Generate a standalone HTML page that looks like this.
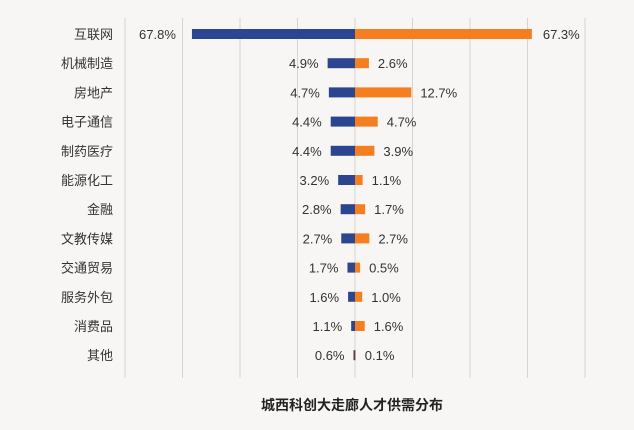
<!DOCTYPE html>
<html><head><meta charset="utf-8"><style>
html,body{margin:0;padding:0;background:#f7f6f4;}
svg{display:block;font-family:"Liberation Sans","Noto Sans CJK SC",sans-serif;}
</style></head><body>
<svg id="chart" width="634" height="430"></svg>
<script>
const categories=["互联网","机械制造","房地产","电子通信","制药医疗","能源化工","金融","文教传媒","交通贸易","服务外包","消费品","其他"];
const leftValues=[67.8,4.9,4.7,4.4,4.4,3.2,2.8,2.7,1.7,1.6,1.1,0.6];
const rightValues=[67.3,2.6,12.7,4.7,3.9,1.1,1.7,2.7,0.5,1.0,1.6,0.1];
const gridCount=9;
const NS="http://www.w3.org/2000/svg";
const svg=document.getElementById('chart');
const cx=355,y0=34,step=29.2,barH=10;
function lenL(v){let b=v<=20?6.2*v-3:121+(v-20)*0.88;return Math.max(1.5,b);}
function lenR(v){let b=v<=20?4.2*v+3:87+(v-20)*1.9;return v<0.3?0.8:Math.max(1,b);}
function mk(t,a){const e=document.createElementNS(NS,t);for(const k in a)e.setAttribute(k,a[k]);svg.appendChild(e);return e;}
for(let i=0;i<gridCount;i++){
  const g=mk('line',{x1:125+i*57.5,x2:125+i*57.5,y1:18,y2:378,stroke:'#d6d4d1','stroke-width':1});
  
  
}
categories.forEach((c,i)=>{
  const y=y0+i*step;
  const lab=mk('text',{x:113,y:y+5,'text-anchor':'end','font-size':13,fill:'#333'});
  lab.textContent=c;
  
  
  const lw=lenL(leftValues[i]);
  const lb=mk('rect',{x:cx-lw,y:y-barH/2,width:lw,height:barH,fill:'#2b4590'});
  
  
  const rw=lenR(rightValues[i]);
  const rb=mk('rect',{x:cx,y:y-barH/2,width:rw,height:barH,fill:'#f57f20'});
  
  
  const lt=mk('text',{x:cx-lw-(i==0?16:9),y:y+5,'text-anchor':'end','font-size':13,fill:'#333'});
  lt.textContent=leftValues[i].toFixed(1)+'%';
  
  
  const rt=mk('text',{x:cx+rw+(i==0?11:9),y:y+5,'text-anchor':'start','font-size':13,fill:'#333'});
  rt.textContent=rightValues[i].toFixed(1)+'%';
  
  
});
const t=mk('text',{x:352,y:410,'text-anchor':'middle','font-size':14,'font-weight':'bold',fill:'#222'});
t.textContent='城西科创大走廊人才供需分布';


</script>
</body></html>
